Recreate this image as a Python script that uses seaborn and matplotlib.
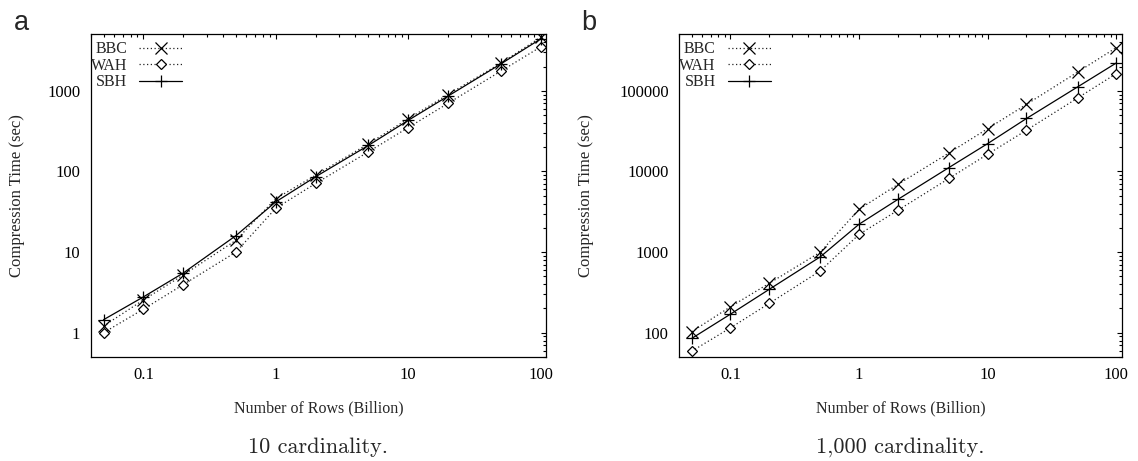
import matplotlib
matplotlib.use("Agg")
import matplotlib.pyplot as plt
import matplotlib.ticker as mticker
import numpy as np
import pandas as pd
import seaborn as sns

# Number of rows (billion)
rows = [0.05, 0.1, 0.2, 0.5, 1, 2, 5, 10, 20, 50, 100]

# Compression time (sec), 10 cardinality
bbc_10 = [1.21, 2.55, 5.2, 14, 46, 90, 220, 450, 900, 2200, 4600]
wah_10 = [1.0, 1.96, 3.95, 10, 35, 71, 175, 350, 700, 1750, 3500]
sbh_10 = [1.45, 2.78, 5.5, 16, 42, 86, 210, 430, 860, 2150, 4400]

# Compression time (sec), 1,000 cardinality
bbc_1k = [103, 210, 410, 1000, 3400, 6900, 17000, 34000, 68000, 171000, 344000]
wah_1k = [59, 115, 231, 586, 1660, 3300, 8200, 16400, 32500, 81600, 164000]
sbh_1k = [85, 170, 345, 875, 2220, 4500, 11200, 22200, 45400, 112000, 222000]

series_names = ["BBC", "WAH", "SBH"]
y_ticks_10 = [1, 10, 100, 1000]
y_ticks_1k = [100, 1000, 10000, 100000]
x_ticks = [0.1, 1, 10, 100]

sns.set_style("white")
plt.rcParams["font.family"] = ["Liberation Serif", "DejaVu Serif"]

dots = (0, (1, 2))
styles = {
    "BBC": dict(linestyle=dots, marker="x", markersize=8, color="#222222"),
    "WAH": dict(linestyle=dots, marker="D", markersize=5.5, markerfacecolor="white",
                color="#222222"),
    "SBH": dict(linestyle="-", marker="+", markersize=9, color="black"),
}

fig = plt.figure(figsize=(11.38, 4.61), dpi=100)
ax_a = fig.add_axes([0.0797, 0.2256, 0.4001, 0.6996])
ax_b = fig.add_axes([0.5969, 0.2256, 0.3888, 0.6996])


def draw_panel(ax, values, ylim, yticks, caption, ylabel_x):
    df = pd.DataFrame({"rows": rows * 3,
                       "time": values[0] + values[1] + values[2],
                       "method": sum([[n] * len(rows) for n in series_names], [])})
    for name in series_names:
        sub = df[df["method"] == name]
        sns.lineplot(data=sub, x="rows", y="time", ax=ax,
                     linewidth=0.9, markeredgecolor="black", markeredgewidth=0.9,
                     label=name, **styles[name])
    ax.set_xscale("log")
    ax.set_yscale("log")
    ax.set_xlim(0.04, 110)
    ax.set_ylim(*ylim)
    ax.set_xticks(x_ticks)
    ax.set_yticks(yticks)
    ax.xaxis.set_major_formatter(mticker.FuncFormatter(lambda v, p: f"{v:g}"))
    ax.yaxis.set_major_formatter(mticker.FuncFormatter(lambda v, p: f"{int(round(v))}"))
    ax.xaxis.set_minor_locator(mticker.LogLocator(base=10, subs=np.arange(2, 10)))
    ax.yaxis.set_minor_locator(mticker.LogLocator(base=10, subs=np.arange(2, 10)))
    ax.xaxis.set_minor_formatter(mticker.NullFormatter())
    ax.yaxis.set_minor_formatter(mticker.NullFormatter())
    ax.tick_params(which="both", direction="in", top=True, right=True,
                   colors="black", width=0.8)
    ax.tick_params(which="major", length=3.8, labelsize=12)
    ax.tick_params(which="minor", length=2)
    ax.tick_params(axis="y", which="major", pad=7.5)
    ax.tick_params(axis="x", which="major", pad=7)
    for s in ax.spines.values():
        s.set_color("black")
        s.set_linewidth(0.9)
    ax.set_xlabel("Number of Rows (Billion)", fontsize=11.5, labelpad=13)
    ax.set_ylabel("Compression Time (sec)", fontsize=12)
    ax.yaxis.set_label_coords(ylabel_x, 0.5)
    leg = ax.legend(loc="upper left", bbox_to_anchor=(0.0, 0.979), frameon=False,
                    markerfirst=False, fontsize=11.5, handlelength=2.7,
                    handletextpad=0.75, labelspacing=0.03, borderaxespad=0,
                    borderpad=0)
    for t in leg.get_texts():
        t.set_ha("right")
    box = ax.get_position()
    fig.text(box.x0 + box.width / 2, 1 - 453 / 461, caption, ha="center",
             va="baseline", fontsize=16, family="cmr10")


draw_panel(ax_a, [bbc_10, wah_10, sbh_10], (0.5, 5000), y_ticks_10,
           "10 cardinality.", -0.145)
draw_panel(ax_b, [bbc_1k, wah_1k, sbh_1k], (50, 500000), y_ticks_1k,
           "1,000 cardinality.", -0.193)

fig.text(0.012, 0.935, "a", fontsize=19.5, family=["Liberation Sans", "DejaVu Sans"])
fig.text(0.5105, 0.935, "b", fontsize=19.5, family=["Liberation Sans", "DejaVu Sans"])

fig.savefig("out.png", dpi=100)
